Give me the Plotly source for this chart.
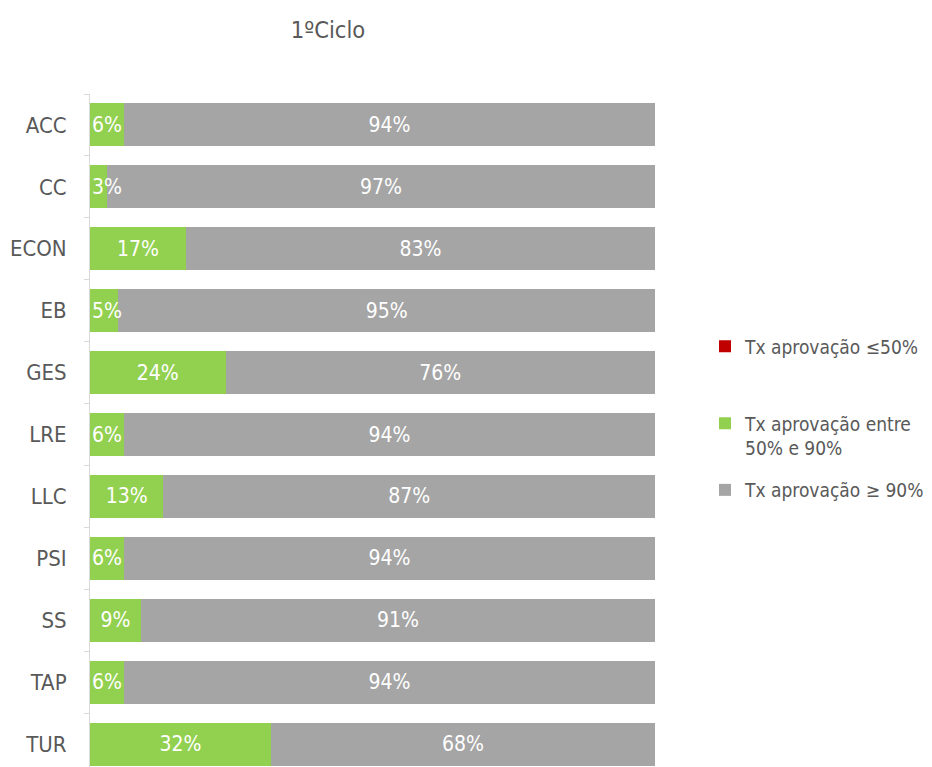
import plotly.graph_objects as go

categories = ["ACC", "CC", "ECON", "EB", "GES", "LRE", "LLC", "PSI", "SS", "TAP", "TUR"]
low = [0, 0, 0, 0, 0, 0, 0, 0, 0, 0, 0]
mid = [6, 3, 17, 5, 24, 6, 13, 6, 9, 6, 32]
high = [94, 97, 83, 95, 76, 94, 87, 94, 91, 94, 68]
series_names = ["Tx aprovação ≤50%", "Tx aprovação entre<br>50% e 90%", "Tx aprovação ≥ 90%"]
title_text = "1ºCiclo"

FONT = "DejaVu Sans Condensed, Liberation Sans Narrow, Arial Narrow, sans-serif"
TXT = "#595959"
SMALL = 8  # segments narrower than this get their label nudged to the bar start

fig = go.Figure()
fig.add_trace(go.Bar(y=categories, x=low, orientation="h", name=series_names[0],
                     marker=dict(color="#C00000", line=dict(width=0)),
                     legend="legend", hoverinfo="skip"))
fig.add_trace(go.Bar(y=categories, x=mid, orientation="h", name=series_names[1],
                     marker=dict(color="#92D050", line=dict(width=0)),
                     text=[f"{v}%" for v in mid],
                     textposition=["inside" if v >= SMALL else "none" for v in mid],
                     insidetextanchor="middle", textangle=0,
                     textfont=dict(color="white", size=21, family=FONT),
                     legend="legend2"))
fig.add_trace(go.Bar(y=categories, x=high, orientation="h", name=series_names[2],
                     marker=dict(color="#A5A5A5", line=dict(width=0)),
                     text=[f"{v}%" for v in high], textposition="inside",
                     insidetextanchor="middle", textangle=0,
                     textfont=dict(color="white", size=21, family=FONT),
                     legend="legend3"))

for cat, v in zip(categories, mid):
    if v < SMALL:
        fig.add_annotation(x=0, y=cat, xref="x", yref="y", text=f"{v}%",
                           xanchor="left", yanchor="middle", xshift=0,
                           showarrow=False,
                           font=dict(color="white", size=21, family=FONT))

legend_common = dict(x=1.0885, xanchor="left", yanchor="middle",
                     font=dict(size=19, color=TXT, family=FONT),
                     itemwidth=30, valign="top", bgcolor="rgba(0,0,0,0)")

fig.update_layout(
    width=932, height=767,
    barmode="stack", bargap=0.305,
    plot_bgcolor="white", paper_bgcolor="white",
    margin=dict(l=82, r=285, t=86, b=0, autoexpand=False),
    font=dict(family=FONT, color=TXT),
    uniformtext=dict(mode="show", minsize=21),
    title=dict(text=title_text, x=320/932, xref="container", xanchor="center",
               y=1-22/767, yref="container", yanchor="middle",
               font=dict(size=23.5, color=TXT, family=FONT)),
    xaxis=dict(range=[0, 100], visible=False, fixedrange=True),
    yaxis=dict(type="category", categoryorder="array", categoryarray=categories,
               range=[10.5, -0.5], tickson="boundaries", ticks="outside",
               ticklen=5, tickcolor="#D9D9D9", showline=True, linecolor="#D9D9D9",
               linewidth=1, showgrid=False, ticklabelstandoff=18,
               tickfont=dict(size=22, color=TXT, family=FONT)),
    legend=dict(y=0.6292, **legend_common),
    legend2=dict(y=0.4978, **legend_common),
    legend3=dict(y=0.4185, **legend_common),
    showlegend=True,
)

fig.write_html("out.html")
